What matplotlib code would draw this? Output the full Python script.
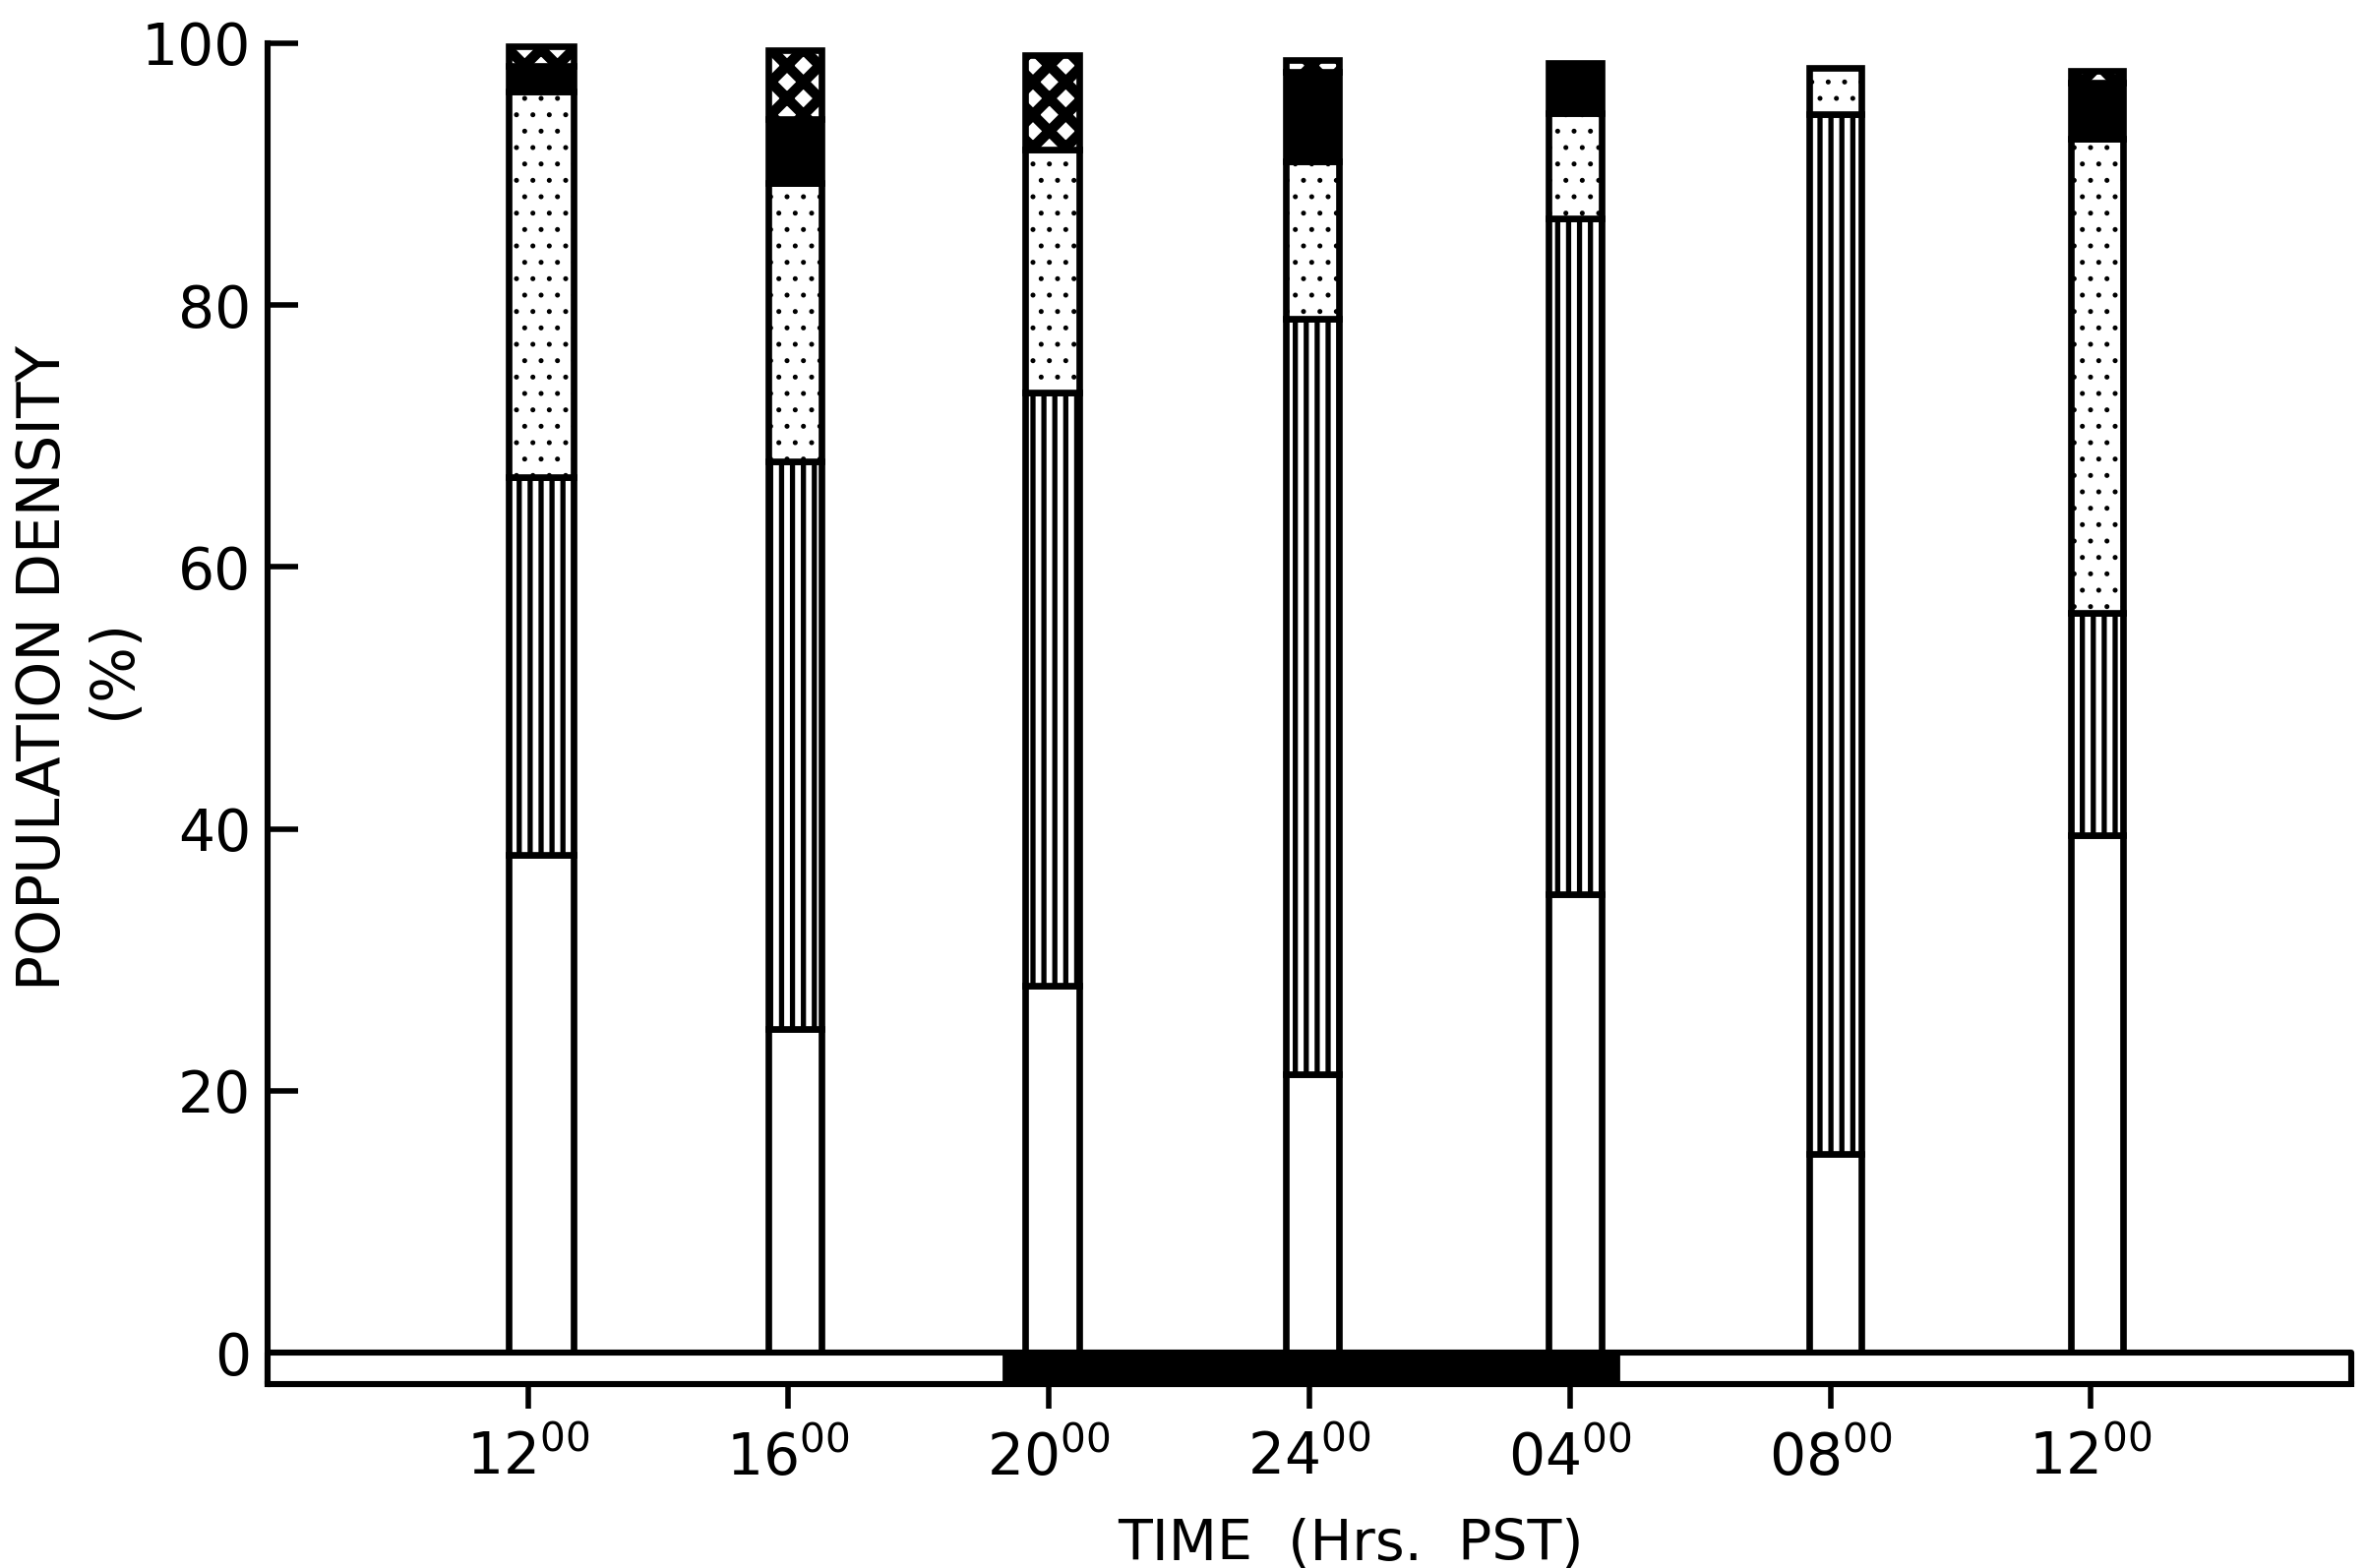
import matplotlib
matplotlib.use('Agg')
import matplotlib.pyplot as plt
import numpy as np

# ---- data -------------------------------------------------------------
times = [12, 16, 20, 24, 28, 32, 36]            # hours since 00:00 of day 1
sample_times = [12.2, 16.1, 20.05, 24.05, 28.08, 32.08, 36.1]
tick_hours = ['12', '16', '20', '24', '04', '08', '12']
white_pct   = [38.0, 24.7, 28.0, 21.3, 35.0, 15.2, 39.5]
striped_pct = [28.9, 43.4, 45.3, 57.7, 51.6, 79.4, 17.0]
dotted_pct  = [29.4, 21.2, 18.6, 12.0,  8.1,  3.5, 36.2]
black_pct   = [ 2.0,  4.9,  0.0,  6.8,  3.8,  0.0,  4.3]
crossed_pct = [ 1.5,  5.3,  7.2,  0.9,  0.0,  0.0,  0.9]
y_ticks = [0, 20, 40, 60, 80, 100]
light_start, light_end = 8.0, 40.0
dark_start, dark_end = 19.3, 28.75

# ---- figure -----------------------------------------------------------
plt.rcParams['font.family'] = ['DejaVu Sans']
plt.rcParams['hatch.linewidth'] = 1.5
plt.rcParams['mathtext.fontset'] = 'dejavusans'

fig = plt.figure(figsize=(12.03, 7.97), dpi=200)
ax = fig.add_axes([0.113, 0.1173, 0.8804, 0.8551])

widths = [1.0, 0.82, 0.82, 0.82, 0.82, 0.80, 0.80]
layers = [
    (white_pct,   'white', None,  1.5),
    (striped_pct, 'white', '|||', 1.9),
    (dotted_pct,  'white', '..',  0.6),
    (black_pct,   'black', None,  1.5),
    (crossed_pct, 'white', 'xx',  3.8),
]
bottom = np.zeros(len(times))
for vals, fc, hatch, hlw in layers:
    vals = np.asarray(vals, dtype=float)
    idx = vals > 0
    bars = ax.bar(np.asarray(sample_times)[idx], vals[idx], bottom=bottom[idx],
                  width=np.asarray(widths)[idx], facecolor=fc,
                  edgecolor='black', linewidth=2.4, hatch=hatch, zorder=3)
    for b in bars:
        if hasattr(b, 'set_hatch_linewidth'):
            b.set_hatch_linewidth(hlw)
    bottom = bottom + vals

# light / dark band under the bars
band_h = 2.4
ax.broken_barh([(light_start, light_end - light_start)], (-band_h, band_h),
               facecolors='white', edgecolors='black', linewidth=2.2,
               clip_on=False, zorder=4)
ax.broken_barh([(dark_start, dark_end - dark_start)], (-band_h, band_h),
               facecolors='black', edgecolors='black', linewidth=1.0,
               clip_on=False, zorder=5)

ax.set_xlim(light_start, light_end)
ax.set_ylim(-band_h, 100)

for s in ['top', 'right']:
    ax.spines[s].set_visible(False)
ax.spines['left'].set_linewidth(2.2)
ax.spines['bottom'].set_linewidth(2.2)

ax.set_xticks(times)
ax.set_xticklabels([h + r'$^{00}$' for h in tick_hours], fontsize=21)
ax.tick_params(axis='x', direction='out', length=9, width=2.0, pad=8)
ax.set_yticks(y_ticks)
ax.set_yticklabels([str(v) for v in y_ticks], fontsize=21)
ax.tick_params(axis='y', direction='in', length=11, width=2.0, pad=6)

ax.set_xlabel('TIME  (Hrs.  PST)', fontsize=20.5)
ax.xaxis.set_label_coords(0.52, -0.10)
ax.set_ylabel('POPULATION DENSITY\n(%)', fontsize=21.5, linespacing=1.25,
              multialignment='center')
ax.yaxis.set_label_coords(-0.060, 0.534)

fig.savefig('out.png', dpi=200, facecolor='white')
